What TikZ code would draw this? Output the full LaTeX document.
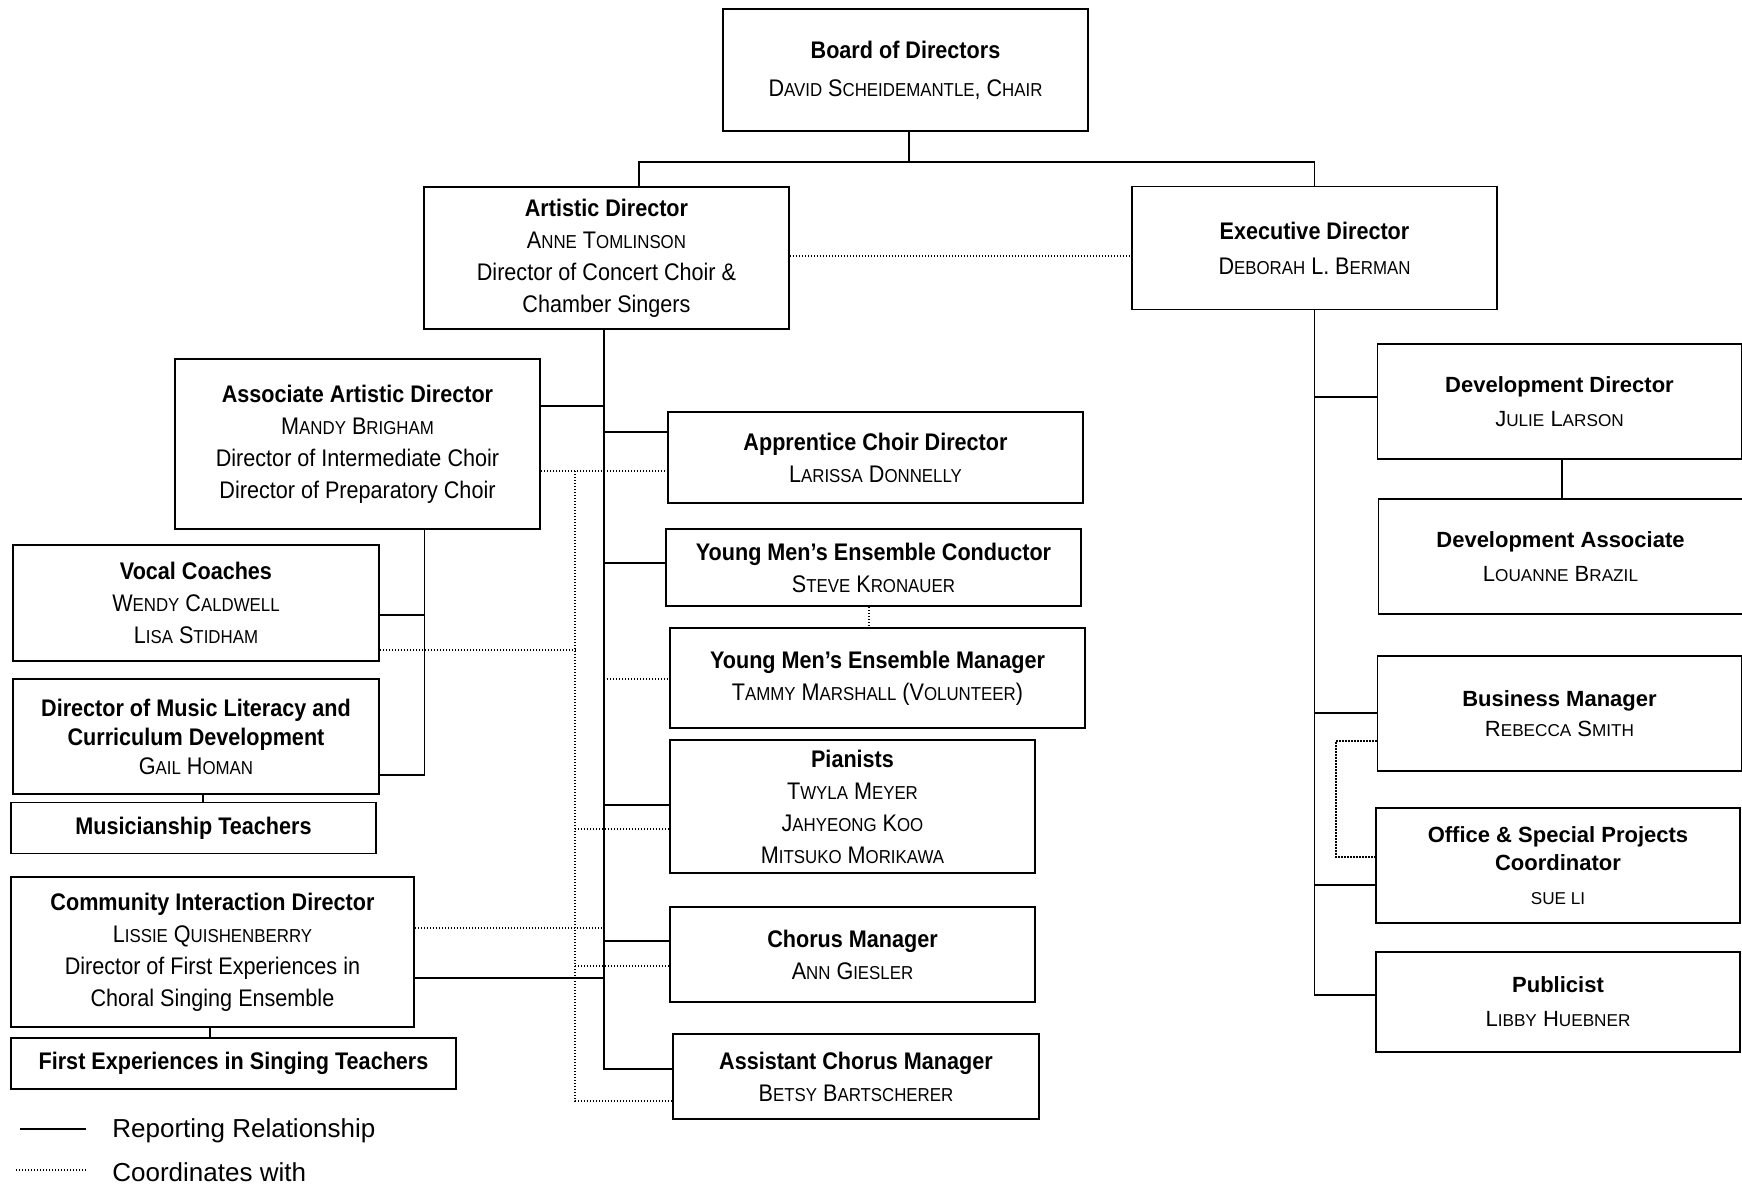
\documentclass[tikz,border=0pt]{standalone}
\usepackage{fontspec}
\setmainfont[FakeStretch=0.9]{Liberation Sans}
\newfontfamily\widefont{Liberation Sans}
\makeatletter
\newcommand\lc[1]{{\fontsize{\the\dimexpr0.78\dimexpr\f@size pt\relax\relax}{\f@baselineskip}\selectfont #1}}
\makeatother
\tikzset{
  box/.style={draw, line width=0.9pt, align=center, inner sep=0pt, font=\fontsize{12}{16}\selectfont},
  rbox/.style={box, font=\widefont\fontsize{11}{17}\selectfont},
  link/.style={line width=0.8pt},
  dottedln/.style={line width=0.6pt, dash pattern=on 0.6pt off 0.9pt}
}
\begin{document}
\begin{tikzpicture}[x=0.5pt, y=-0.5pt]
    \path[use as bounding box] (0,0) rectangle (1742,1191);
    \node[box, minimum width=182.5pt, minimum height=61pt] (board) at (905.5,70) {\textbf{Board of Directors}\\[3pt]D\lc{AVID} S\lc{CHEIDEMANTLE}, C\lc{HAIR}};
    \node[box, minimum width=182.5pt, minimum height=71pt] (artistic) at (606.5,258) {\textbf{Artistic Director}\\A\lc{NNE} T\lc{OMLINSON}\\Director of Concert Choir \&\\Chamber Singers};
    \node[box, minimum width=182.5pt, minimum height=61.5pt] (exec) at (1314.5,248) {\textbf{Executive Director}\\[1.5pt]D\lc{EBORAH} L. B\lc{ERMAN}};
    \node[box, minimum width=182.5pt, minimum height=85pt] (assoc) at (357.5,444) {\textbf{Associate Artistic Director}\\M\lc{ANDY} B\lc{RIGHAM}\\Director of Intermediate Choir\\Director of Preparatory Choir};
    \node[box, minimum width=207.5pt, minimum height=45.5pt] (appr) at (875.5,457.5) {\textbf{Apprentice Choir Director}\\L\lc{ARISSA} D\lc{ONNELLY}};
    \node[box, minimum width=207.5pt, minimum height=38.5pt] (ymec) at (873.5,567.5) {\textbf{Young Men's Ensemble Conductor}\\S\lc{TEVE} K\lc{RONAUER}};
    \node[box, minimum width=207.5pt, minimum height=50pt] (ymem) at (877.5,678) {\textbf{Young Men's Ensemble Manager}\\T\lc{AMMY} M\lc{ARSHALL} (V\lc{OLUNTEER})};
    \node[box, minimum width=182.5pt, minimum height=66.5pt] (pian) at (852.5,806.5) {\textbf{Pianists}\\T\lc{WYLA} M\lc{EYER}\\J\lc{AHYEONG} K\lc{OO}\\M\lc{ITSUKO} M\lc{ORIKAWA}};
    \node[box, minimum width=182.5pt, minimum height=47.5pt] (chorus) at (852.5,954.5) {\textbf{Chorus Manager}\\A\lc{NN} G\lc{IESLER}};
    \node[box, minimum width=183pt, minimum height=42.5pt] (asst) at (856,1076.5) {\textbf{Assistant Chorus Manager}\\B\lc{ETSY} B\lc{ARTSCHERER}};
    \node[box, minimum width=183pt, minimum height=58pt] (vocal) at (196,603) {\textbf{Vocal Coaches}\\W\lc{ENDY} C\lc{ALDWELL}\\L\lc{ISA} S\lc{TIDHAM}};
    \node[box, minimum width=183pt, minimum height=57.5pt] (mlit) at (196,736.5) {\textbf{Director of Music Literacy and}\\[-1.5pt]\textbf{Curriculum Development}\\[-1.5pt]G\lc{AIL} H\lc{OMAN}};
    \node[box, minimum width=182.5pt, minimum height=25.5pt] (musn) at (193.5,828) {\textbf{Musicianship Teachers}};
    \node[box, minimum width=201.5pt, minimum height=75pt] (comm) at (212.5,952) {\textbf{Community Interaction Director}\\L\lc{ISSIE} Q\lc{UISHENBERRY}\\Director of First Experiences in\\Choral Singing Ensemble};
    \node[box, minimum width=222.5pt, minimum height=25.5pt] (first) at (233.5,1063.5) {\textbf{First Experiences in Singing Teachers}};
    \node[rbox, minimum width=182pt, minimum height=57.5pt] (devdir) at (1559.5,401.5) {\textbf{Development Director}\\J\lc{ULIE} L\lc{ARSON}};
    \node[rbox, minimum width=182pt, minimum height=57.5pt] (devas) at (1560.5,556.5) {\textbf{Development Associate}\\L\lc{OUANNE} B\lc{RAZIL}};
    \node[rbox, minimum width=182pt, minimum height=57.5pt] (busm) at (1559.5,713.5) {\textbf{Business Manager}\\[-2pt]R\lc{EBECCA} S\lc{MITH}};
    \node[rbox, minimum width=182pt, minimum height=57.5pt] (office) at (1558,865.5) {\textbf{Office \& Special Projects}\\[-3pt]\textbf{Coordinator}\\\lc{SUE LI}};
    \node[rbox, minimum width=182pt, minimum height=50pt] (pub) at (1558,1002) {\textbf{Publicist}\\L\lc{IBBY} H\lc{UEBNER}};
    \coordinate (bus) at (909,162);
    \coordinate (atrunk) at ([xshift=-1.25pt]artistic.south);
    \coordinate (asub) at ([xshift=33.5pt]assoc.south);
    \coordinate (dline) at (575,471);
    \coordinate (bdot) at (1336,741);
    \draw[link] (board.south -| bus) -- (bus);
    \draw[link] ([xshift=16.25pt]artistic.north) |- (bus) -| (exec.north);
    \draw[link] (atrunk) |- (asst.west |- 0,1069);
    \draw[link] (assoc.east |- 0,406) -- (atrunk |- 0,406);
    \draw[link] (atrunk |- 0,432) -- (appr.west |- 0,432);
    \draw[link] (atrunk |- 0,563) -- (ymec.west |- 0,563);
    \draw[link] (atrunk |- 0,805) -- (pian.west |- 0,805);
    \draw[link] (atrunk |- 0,941) -- (chorus.west |- 0,941);
    \draw[link] (comm.east |- 0,978) -- (atrunk |- 0,978);
    \draw[link] (asub) |- (mlit.east |- 0,775);
    \draw[link] (vocal.east |- 0,615) -- (asub |- 0,615);
    \draw[link] ([xshift=3.5pt]mlit.south) -- ([xshift=3.5pt]mlit.south |- musn.north);
    \draw[link] ([xshift=-1.25pt]comm.south) -- ([xshift=-1.25pt]comm.south |- first.north);
    \draw[link] (exec.south) |- (pub.west |- 0,995);
    \draw[link] (exec.south |- 0,397) -- (devdir.west |- 0,397);
    \draw[link] (exec.south |- 0,713) -- (busm.west |- 0,713);
    \draw[link] (exec.south |- 0,885) -- (office.west |- 0,885);
    \draw[link] ([xshift=1.25pt]devdir.south) -- ([xshift=1.25pt]devdir.south |- devas.north);
    \draw[dottedln] (artistic.east |- 0,256) -- (exec.west |- 0,256);
    \draw[dottedln] (assoc.east |- dline) -- (appr.west |- dline);
    \draw[dottedln] (dline) |- (asst.west |- 0,1101);
    \draw[dottedln] (vocal.east |- 0,650) -- (dline |- 0,650);
    \draw[dottedln] (atrunk |- 0,679) -- (ymem.west |- 0,679);
    \draw[dottedln] (dline |- 0,829) -- (pian.west |- 0,829);
    \draw[dottedln] (comm.east |- 0,928) -- (atrunk |- 0,928);
    \draw[dottedln] (dline |- 0,966) -- (chorus.west |- 0,966);
    \draw[dottedln] ([xshift=-2.25pt]ymec.south) -- ([xshift=-2.25pt]ymec.south |- ymem.north);
    \draw[dottedln] (busm.west |- bdot) -- (bdot) |- (office.west |- 0,857);
    \draw[link] (20,1129) -- (86,1129);
    \node[anchor=west, inner sep=0pt, font=\widefont\fontsize{13}{15}\selectfont] (lgrep) at (112,1131) {Reporting Relationship};
    \draw[dottedln] (16,1170) -- (86,1170);
    \node[anchor=west, inner sep=0pt, font=\widefont\fontsize{13}{15}\selectfont] (lgcoord) at (112,1172) {Coordinates with};
\end{tikzpicture}
\end{document}
